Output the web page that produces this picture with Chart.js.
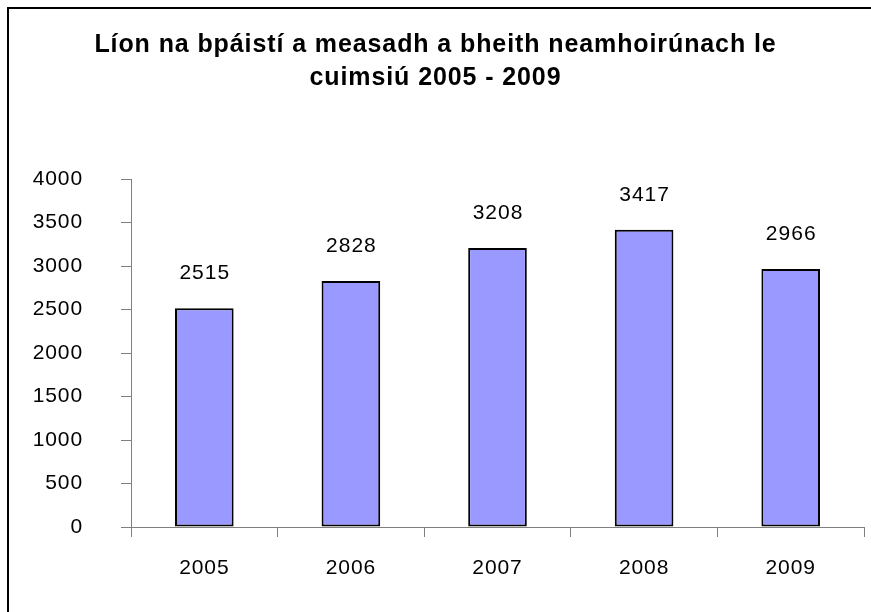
<!DOCTYPE html>
<html>
<head>
<meta charset="utf-8">
<script src="https://cdn.jsdelivr.net/npm/chart.js@4"></script>
<style>
html,body{margin:0;padding:0;background:#fff;overflow:hidden;width:871px;height:612px;}
#frame{position:absolute;left:7px;top:7px;width:871px;height:612px;border-left:2px solid #000;border-top:2px solid #000;box-sizing:border-box;}
#wrap{position:absolute;left:7px;top:7px;width:871px;height:605px;}
</style>
</head>
<body>
<div id="frame"></div>
<div id="wrap"><canvas id="c" width="871" height="605"></canvas></div>
<script>
const categories = ['2005','2006','2007','2008','2009'];
const values = [2515, 2828, 3208, 3417, 2966];
const titleLines = ['Líon na bpáistí a measadh a bheith neamhoirúnach le','cuimsiú 2005 - 2009'];
const yMin = 0, yMax = 4000, yStep = 500;

const FONT = "'Liberation Sans', Arial, sans-serif";
const BASE_SPACING = '0.5px';

const spacing = {
  id: 'spacing',
  beforeInit(chart) { try { chart.ctx.letterSpacing = BASE_SPACING; } catch (e) {} },
  beforeDraw(chart) { try { chart.ctx.letterSpacing = '0.9px'; } catch (e) {} },
  afterDraw(chart) { try { chart.ctx.letterSpacing = BASE_SPACING; } catch (e) {} }
};

const valueLabels = {
  id: 'valueLabels',
  afterDatasetsDraw(chart) {
    const ctx = chart.ctx;
    const meta = chart.getDatasetMeta(0);
    ctx.save();
    try { ctx.letterSpacing = '1px'; } catch (e) {}
    ctx.font = "21px " + FONT;
    ctx.fillStyle = '#000';
    ctx.textAlign = 'center';
    ctx.textBaseline = 'middle';
    meta.data.forEach((bar, i) => {
      ctx.fillText(String(chart.data.datasets[0].data[i]), bar.x + 0.5, bar.y - 35);
    });
    ctx.restore();
  }
};

const axisSpacing = {
  id: 'axisSpacing',
  beforeDatasetsDraw(chart) { try { chart.ctx.letterSpacing = BASE_SPACING; } catch (e) {} }
};

new Chart(document.getElementById('c'), {
  type: 'bar',
  data: {
    labels: categories,
    datasets: [{
      data: values,
      backgroundColor: '#9999FF',
      borderColor: '#000',
      borderWidth: 2,
      borderSkipped: false,
      barPercentage: 0.4,
      categoryPercentage: 1.0
    }]
  },
  options: {
    responsive: false,
    animation: false,
    devicePixelRatio: 1,
    layout: { padding: { left: 0, right: 14, top: 0, bottom: 0 } },
    plugins: {
      legend: { display: false },
      tooltip: { enabled: false },
      title: {
        display: true,
        text: titleLines,
        color: '#000',
        font: { family: FONT, size: 25, weight: 'bold', lineHeight: 1.3 },
        padding: { top: 22, bottom: 85 }
      }
    },
    scales: {
      x: {
        grid: { display: true, drawOnChartArea: false, drawTicks: true, tickLength: 10, color: '#7f7f7f', offset: true },
        border: { display: true, color: '#7f7f7f', width: 1 },
        ticks: { color: '#000', font: { family: FONT, size: 21 }, padding: 19, maxRotation: 0 },
        afterFit(s) { s.height = 85; }
      },
      y: {
        min: yMin, max: yMax,
        grid: { display: true, drawOnChartArea: false, drawTicks: true, tickLength: 10, color: '#7f7f7f' },
        border: { display: true, color: '#7f7f7f', width: 1 },
        ticks: { stepSize: yStep, color: '#000', font: { family: FONT, size: 21 }, padding: 38,
                 callback: v => String(v) },
        afterFit(s) { s.width = 124; }
      }
    }
  },
  plugins: [spacing, valueLabels]
});
</script>
</body>
</html>
